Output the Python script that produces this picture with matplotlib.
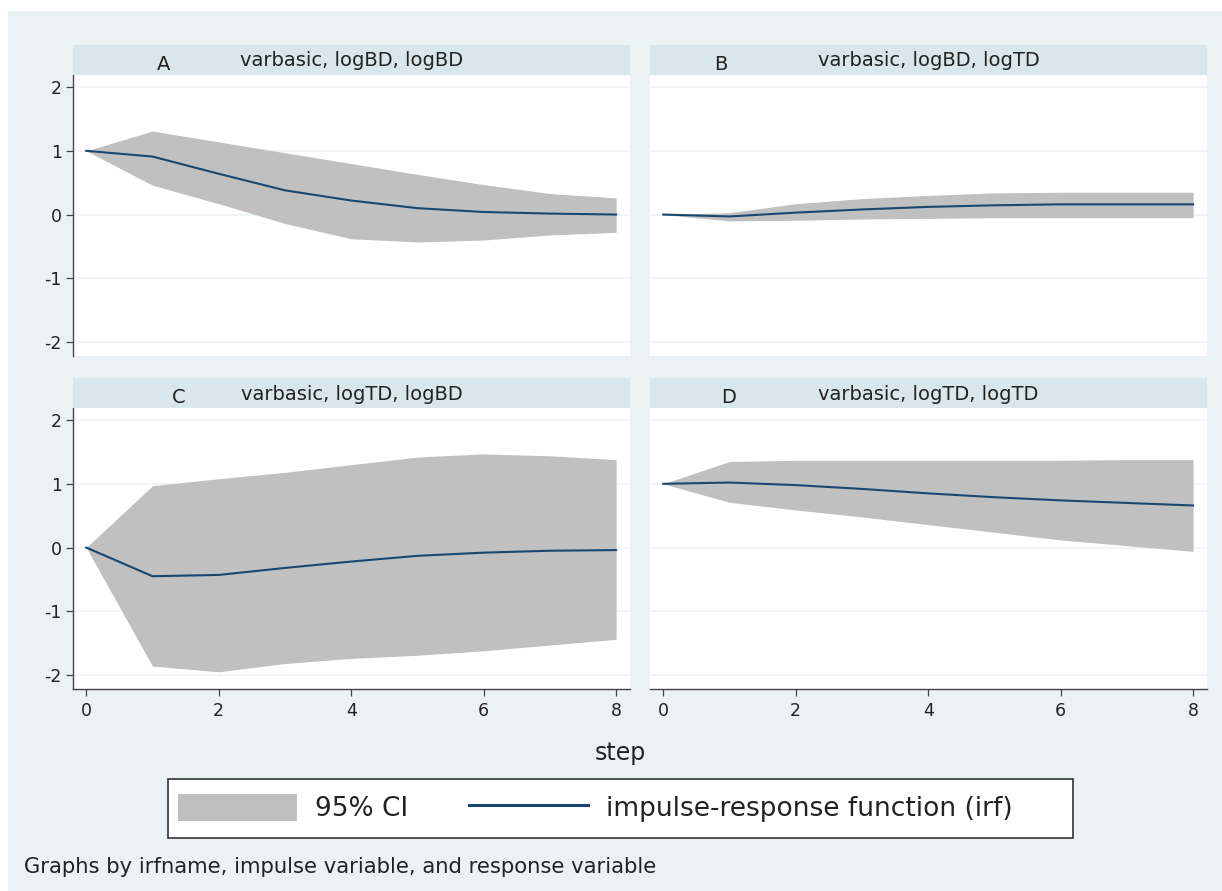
import matplotlib
matplotlib.use("Agg")
import matplotlib.pyplot as plt
from matplotlib.patches import Rectangle, Patch
from matplotlib.lines import Line2D

# ---------------- data ----------------
steps = [0, 1, 2, 3, 4, 5, 6, 7, 8]

irf_A = [1.00, 0.91, 0.64, 0.38, 0.22, 0.10, 0.04, 0.015, 0.00]
lo_A  = [1.00, 0.46, 0.17, -0.14, -0.38, -0.43, -0.40, -0.32, -0.28]
hi_A  = [1.00, 1.31, 1.14, 0.97, 0.80, 0.63, 0.47, 0.33, 0.26]

irf_B = [0.00, -0.03, 0.03, 0.08, 0.12, 0.145, 0.16, 0.16, 0.16]
lo_B  = [0.00, -0.10, -0.09, -0.07, -0.06, -0.05, -0.05, -0.05, -0.05]
hi_B  = [0.00, 0.03, 0.17, 0.25, 0.30, 0.34, 0.35, 0.35, 0.35]

irf_C = [0.00, -0.45, -0.43, -0.32, -0.22, -0.13, -0.08, -0.05, -0.04]
lo_C  = [0.00, -1.86, -1.95, -1.82, -1.74, -1.69, -1.62, -1.53, -1.44]
hi_C  = [0.00, 0.97, 1.08, 1.18, 1.30, 1.42, 1.47, 1.44, 1.38]

irf_D = [1.00, 1.02, 0.98, 0.92, 0.85, 0.79, 0.74, 0.70, 0.66]
lo_D  = [1.00, 0.71, 0.59, 0.48, 0.36, 0.24, 0.12, 0.03, -0.06]
hi_D  = [1.00, 1.35, 1.37, 1.37, 1.37, 1.37, 1.37, 1.38, 1.38]

panel_letters = ["A", "B", "C", "D"]
panel_titles = ["varbasic, logBD, logBD", "varbasic, logBD, logTD",
                "varbasic, logTD, logBD", "varbasic, logTD, logTD"]
yticks = [-2, -1, 0, 1, 2]
ytick_labels = ["-2", "-1", "0", "1", "2"]
xticks = [0, 2, 4, 6, 8]
xtick_labels = ["0", "2", "4", "6", "8"]
xlabel = "step"
legend_labels = ["95% CI", "impulse-response function (irf)"]
note = "Graphs by irfname, impulse variable, and response variable"

# ---------------- style ----------------
W, H = 1222, 891
BG = "#EAF2F3"
STRIP = "#D9E6EB"
CI = "#C0C0C0"
LINE = "#1A476F"
AX = "#444444"
TXT = "#222222"

fig = plt.figure(figsize=(W / 100, H / 100), dpi=100)
fig.patch.set_facecolor("white")

def fx(px):
    return px / W

def fy(py):
    return 1 - py / H

# graph region background
fig.add_artist(Rectangle((fx(8), 0), 1 - fx(8), fy(11), transform=fig.transFigure,
                         facecolor=BG, edgecolor="none", zorder=-10))

cols = [(73, 630), (650, 1207)]
rows = [(75, 356, 45), (408, 689, 378)]  # plot top, plot bottom, strip top

series = [(irf_A, lo_A, hi_A), (irf_B, lo_B, hi_B), (irf_C, lo_C, hi_C), (irf_D, lo_D, hi_D)]
letter_x = [164, 721, 179, 729]

for i in range(4):
    r, c = divmod(i, 2)
    x0, x1 = cols[c]
    top, bot, stop = rows[r]
    ax = fig.add_axes([fx(x0), fy(bot), fx(x1 - x0), (bot - top) / H])
    ax.set_facecolor("white")
    irf, lo, hi = series[i]
    ax.fill_between(steps, lo, hi, color=CI, linewidth=0, zorder=2)
    ax.plot(steps, irf, color=LINE, lw=1.5, zorder=3)
    ax.set_xlim(-0.2, 8.21)
    ax.set_ylim(-2.22, 2.19)
    ax.set_yticks(yticks)
    ax.set_xticks(xticks)
    ax.grid(axis="y", color="#EDF3F4", lw=1.2, zorder=1)
    ax.set_axisbelow(True)
    for s in ["top", "right"]:
        ax.spines[s].set_visible(False)
    ax.spines["left"].set_visible(c == 0)
    ax.spines["bottom"].set_visible(r == 1)
    for s in ["left", "bottom"]:
        ax.spines[s].set_color(AX)
        ax.spines[s].set_linewidth(1.0)
    ax.tick_params(axis="y", left=(c == 0), labelleft=(c == 0), length=5, width=0.9,
                   color=AX, labelsize=12.5, labelcolor=TXT, pad=3)
    ax.tick_params(axis="x", bottom=(r == 1), labelbottom=(r == 1), length=5, width=0.9,
                   color=AX, labelsize=12.5, labelcolor=TXT, pad=4)
    if c == 0:
        ax.set_yticklabels(ytick_labels)
    if r == 1:
        ax.set_xticklabels(xtick_labels)
    # strip
    fig.add_artist(Rectangle((fx(x0), fy(top)), fx(x1 - x0), (top - stop) / H,
                             transform=fig.transFigure, facecolor=STRIP,
                             edgecolor="none", zorder=1))
    fig.text(fx((x0 + x1) / 2), fy((stop + top) / 2 + 1), panel_titles[i],
             ha="center", va="center", fontsize=14, color=TXT)
    fig.text(fx(letter_x[i]), fy((stop + top) / 2 + 4), panel_letters[i],
             ha="center", va="center", fontsize=14, color=TXT)

# x label
fig.text(fx(620), fy(753), xlabel, ha="center", va="center", fontsize=17, color=TXT)

# legend box
fig.add_artist(Rectangle((fx(168), fy(838)), fx(1073 - 168), (838 - 779) / H,
                         transform=fig.transFigure, facecolor="white",
                         edgecolor="#333333", lw=1.2, zorder=5))
handles = [Patch(facecolor=CI, edgecolor="none"),
           Line2D([0], [0], color=LINE, lw=2.2)]
leg = fig.legend(handles, legend_labels, loc="center left", ncol=2, frameon=False,
                 bbox_to_anchor=(fx(178), fy(808)), fontsize=19,
                 handlelength=4.5, handleheight=1.2, handletextpad=0.7,
                 columnspacing=2.3, borderpad=0, borderaxespad=0)
leg.set_zorder(6)
for t in leg.get_texts():
    t.set_color(TXT)

fig.text(fx(24), fy(867), note, ha="left", va="center", fontsize=15.2, color=TXT)

fig.savefig("out.png", dpi=100, facecolor=fig.get_facecolor())
